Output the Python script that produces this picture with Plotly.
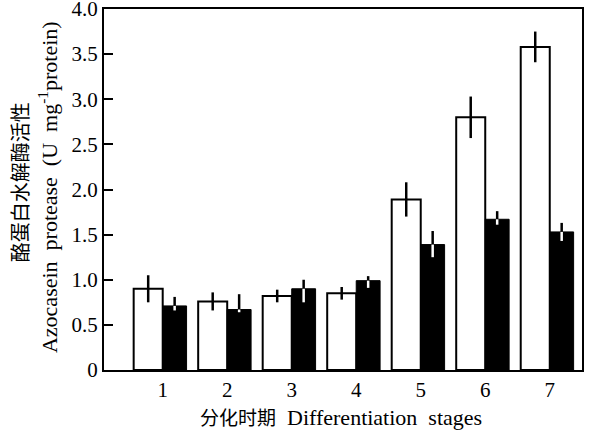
import plotly.graph_objects as go

stages = [1, 2, 3, 4, 5, 6, 7]
tick_labels = ["1", "2", "3", "4", "5", "6", "7"]
white_vals = [0.90, 0.76, 0.82, 0.85, 1.89, 2.80, 3.58]
white_err = [0.15, 0.10, 0.07, 0.07, 0.19, 0.23, 0.17]
black_vals = [0.71, 0.67, 0.90, 0.99, 1.39, 1.67, 1.53]
black_err_up = [0.10, 0.17, 0.10, 0.05, 0.15, 0.09, 0.10]
black_err_down = [0.05, 0.03, 0.15, 0.08, 0.14, 0.06, 0.10]

serif = "Liberation Serif, Times New Roman, serif"
cjk = "Noto Sans CJK SC"

fig = go.Figure()
fig.add_trace(go.Bar(
    x=stages, y=white_vals, offset=-0.45, width=0.45,
    marker=dict(color="white", line=dict(color="black", width=2)),
    error_y=dict(type="data", array=white_err, color="black", thickness=2.5, width=0),
    showlegend=False,
))
fig.add_trace(go.Bar(
    x=stages, y=black_vals, offset=0.0, width=0.37,
    marker=dict(color="black", line=dict(color="black", width=1)),
    error_y=dict(type="data", symmetric=False, array=black_err_up,
                 arrayminus=[0] * 7, color="black", thickness=2.5, width=0),
    showlegend=False,
))
fig.add_trace(go.Bar(
    x=stages, y=black_vals, offset=0.0, width=0.37,
    marker=dict(color="rgba(0,0,0,0)", line=dict(width=0)),
    error_y=dict(type="data", symmetric=False, array=[0] * 7,
                 arrayminus=black_err_down, color="white", thickness=2.5, width=0),
    showlegend=False, hoverinfo="skip",
))

fig.update_layout(
    width=590, height=433,
    margin=dict(l=104, r=8, t=9, b=63),
    paper_bgcolor="white", plot_bgcolor="white",
    barmode="overlay",
    font=dict(family=serif, size=21, color="black"),
    xaxis=dict(
        range=[0.09, 7.5], tickvals=stages, ticktext=tick_labels,
        showgrid=False, zeroline=False, showline=True, linecolor="black",
        linewidth=2, mirror=True, ticks="", tickfont=dict(family=serif, size=21),
        automargin=False, ticklabeloverflow="allow",
    ),
    yaxis=dict(
        range=[0, 4.0], tickvals=[0, 0.5, 1.0, 1.5, 2.0, 2.5, 3.0, 3.5, 4.0],
        ticktext=["0", "0.5", "1.0", "1.5", "2.0", "2.5", "3.0", "3.5", "4.0"],
        showgrid=False, zeroline=False, showline=True, linecolor="black",
        linewidth=2, mirror=True, ticks="inside", ticklen=9, tickwidth=2,
        tickcolor="black", tickfont=dict(family=serif, size=21),
        automargin=False, ticklabeloverflow="allow",
    ),
    annotations=[
        dict(text="酪蛋白水解酶活性", xref="paper", yref="paper",
             x=-0.178, y=0.52, xanchor="center", yanchor="middle",
             textangle=-90, showarrow=False, font=dict(family=cjk, size=20)),
        dict(text="Azocasein  protease  (U  mg<sup>-1</sup>protein)", xref="paper", yref="paper",
             x=-0.117, y=0.507, xanchor="center", yanchor="middle",
             textangle=-90, showarrow=False, font=dict(family=serif, size=22)),
        dict(text="<span style='font-family:Noto Sans CJK SC;font-size:19px'>分化时期</span>  Differentiation  stages",
             xref="paper", yref="paper", x=0.496, y=-0.13, xanchor="center", yanchor="middle",
             showarrow=False, font=dict(family=serif, size=22)),
    ],
)

fig.write_html("out.html", config={"displayModeBar": False},
               post_script="document.body.style.margin='0px';")
